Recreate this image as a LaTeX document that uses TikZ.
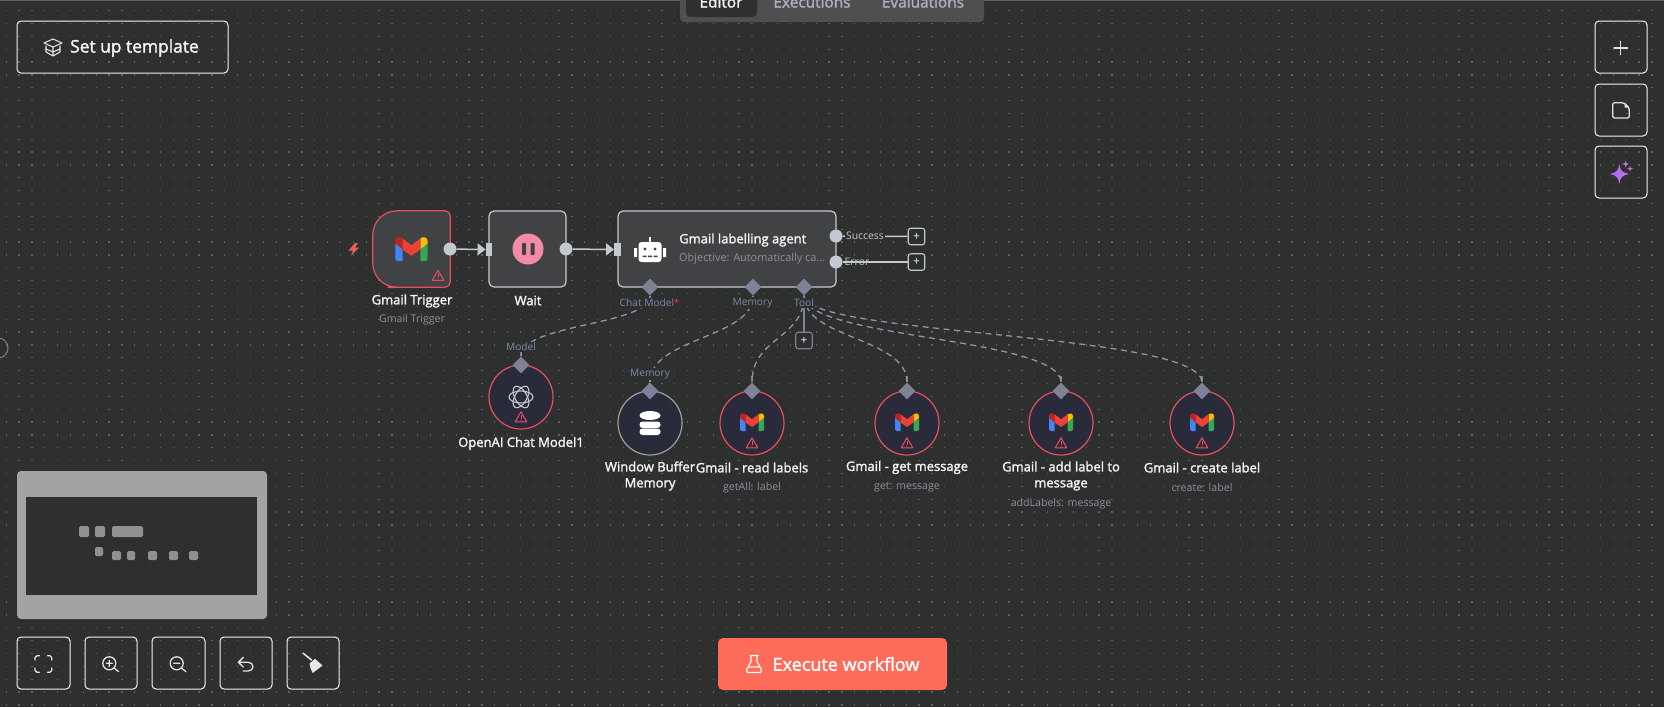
\documentclass[tikz,border=0pt]{standalone}
\usepackage{fontspec}
\setmainfont{Open Sans}
\newfontfamily\semibold[FakeBold=1.8]{Open Sans}
\usetikzlibrary{arrows.meta,shapes.geometric,calc}
\definecolor{bgc}{HTML}{2E2F2F}
\definecolor{griddotc}{HTML}{5F6161}
\definecolor{cardc}{HTML}{414244}
\definecolor{edgec}{HTML}{C4C8D0}
\definecolor{subc}{HTML}{7F8197}
\definecolor{subtext}{HTML}{8C90A0}
\definecolor{subtextb}{HTML}{8087A8}
\definecolor{alert}{HTML}{E8505F}
\definecolor{roundc}{HTML}{2A2B3A}
\definecolor{coral}{HTML}{FF6D5A}
\definecolor{minic}{HTML}{8F9094}
\definecolor{minibg}{HTML}{A3A3A3}
\definecolor{barc}{HTML}{4F4F4F}
\definecolor{tabtext}{HTML}{AAB0C0}
\definecolor{whitec}{HTML}{F4F4F6}
\definecolor{gblue}{HTML}{4285F4}
\definecolor{ggreen}{HTML}{34A853}
\definecolor{gyellow}{HTML}{FBBC04}
\definecolor{gred}{HTML}{EA4335}
\definecolor{gdark}{HTML}{C5221F}
\definecolor{pausec}{HTML}{F48BA6}
\definecolor{boltc}{HTML}{E8604F}
\definecolor{sparka}{HTML}{A06BF8}
\definecolor{sparkb}{HTML}{C775E0}
\tikzset{
  griddots/.style={griddotc,line width=1.3pt,dash pattern=on 1.3pt off 11.557pt},
  card/.style={rectangle,rounded corners=5pt,draw=edgec,fill=cardc,line width=1.2pt,minimum width=77pt,minimum height=76pt,inner sep=0pt},
  roundnode/.style={circle,draw=alert,fill=roundc,line width=1.2pt,minimum size=64pt,inner sep=0pt},
  inbar/.style={rectangle,fill=edgec,minimum width=6.5pt,minimum height=13pt,inner sep=0pt},
  outdot/.style={circle,fill=edgec,minimum size=13pt,inner sep=0pt},
  subport/.style={diamond,aspect=1,fill=subc,minimum width=17pt,minimum height=17pt,inner sep=0pt},
  mainedge/.style={edgec,line width=1.5pt,-{Triangle[length=8pt,width=12pt]}},
  plainedge/.style={edgec,line width=1.5pt},
  subedge/.style={subc!85!white,line width=1.3pt,dash pattern=on 6pt off 4.5pt},
  stem/.style={subc,line width=1.4pt},
  addbox/.style={rectangle,rounded corners=2.5pt,draw=edgec,line width=1.1pt,minimum size=16.5pt,inner sep=0pt,text=whitec,font=\fontsize{12}{12}\selectfont,fill=bgc},
  title/.style={text=whitec,align=center,inner sep=0pt,font=\semibold\fontsize{13}{16}\selectfont},
  subtitle/.style={text=subtext,inner sep=0pt,font=\fontsize{10.6}{12}\selectfont},
  portlabel/.style={text=subtextb,fill=bgc,inner sep=1pt,font=\fontsize{10.2}{12}\selectfont},
  uibtn/.style={rectangle,rounded corners=4pt,draw=whitec,line width=1pt,inner sep=0pt},
  uiicon/.style={whitec!85!gray,line width=1.3pt,line cap=round,line join=round},
  pics/gmail/.style={code={
    \fill[gdark] (-12,-4) -- (-12,-5.5) .. controls (-12,-9) and (-8.5,-9.5) .. (-6.5,-7.8) -- (-6.5,0.5) -- cycle;
    \fill[gyellow] (12,-4) -- (12,-5.5) .. controls (12,-9) and (8.5,-9.5) .. (6.5,-7.8) -- (6.5,0.5) -- cycle;
    \fill[gblue] (-12,-4) -- (-6.5,0.5) -- (-6.5,9) -- (-10.5,9) -- (-12,7.5) -- cycle;
    \fill[ggreen] (12,-4) -- (6.5,0.5) -- (6.5,9) -- (10.5,9) -- (12,7.5) -- cycle;
    \fill[gred] (-6.5,-7.8) -- (0,-2.8) -- (6.5,-7.8) -- (6.5,0.5) -- (0,5) -- (-6.5,0.5) -- cycle;
  }},
  pics/warnmark/.style={code={
    \draw[alert,line width=1pt,line join=round] (0,-5.2) -- (5.8,4.8) -- (-5.8,4.8) -- cycle;
    \draw[alert,line width=1pt] (0,-1.8) -- (0,1.6);
    \fill[alert] (0,3.2) circle (0.6);
  }}
}
\begin{document}
\begin{tikzpicture}[x=1pt,y=-1pt]
\useasboundingbox (0,0) rectangle (1664,707);
\fill[bgc] (0,0) rectangle (1664,707);
% canvas dots
\foreach \r in {0,...,54}{
  \pgfmathsetmacro{\yy}{10.7+12.857*\r}
  \draw[griddots] (5.5,\yy) -- (1664,\yy);
}
\fill[barc!90!white] (0,0) rectangle (1664,1);
\draw[griddotc!80!white,line width=1pt] (-2,348) circle (10);

% top tab bar
\fill[barc] (680,0) -- (680,18) arc[start angle=180,end angle=90,radius=4] -- (980,22) arc[start angle=90,end angle=0,radius=4] -- (984,0) -- cycle;
\fill[bgc] (686,0) -- (686,13) arc[start angle=180,end angle=90,radius=4] -- (753,17) arc[start angle=90,end angle=0,radius=4] -- (757,0) -- cycle;
\node[anchor=base,text=whitec,inner sep=0pt,font=\semibold\fontsize{15.4}{18}\selectfont] (tabeditor) at (721,7.5) {Editor};
\node[anchor=base,text=tabtext,inner sep=0pt,font=\semibold\fontsize{15.4}{18}\selectfont] (tabexec) at (812,7.5) {Executions};
\node[anchor=base,text=tabtext,inner sep=0pt,font=\semibold\fontsize{15.4}{18}\selectfont] (tabeval) at (923,7.5) {Evaluations};

% set up template
\node[uibtn,minimum width=211pt,minimum height=52pt] (setup) at (122.5,47) {};
\draw[uiicon,line width=1.1pt] (44,43) -- (53,39) -- (62,43) -- (53,47) -- cycle (46,46) -- (46,52) -- (53,56) -- (60,52) -- (60,46) (53,47) -- (53,56) (46,49) -- (53,52) -- (60,49);
\node[anchor=west,text=whitec,inner sep=0pt,font=\semibold\fontsize{17.4}{20}\selectfont] (setuptext) at (70,48) {Set up template};

% right buttons
\node[uibtn,minimum width=52pt,minimum height=52pt] (btnadd) at (1621,47) {};
\node[uibtn,minimum width=52pt,minimum height=52pt] (btnnote) at (1621,110) {};
\node[uibtn,minimum width=52pt,minimum height=52pt] (btnai) at (1621,172) {};
\draw[uiicon] (1614,48) -- (1627.5,48) (1620.7,41.3) -- (1620.7,54.7);
\draw[uiicon,rounded corners=2pt] (1624,102.7) -- (1612.7,102.7) -- (1612.7,118) -- (1629.3,118) -- (1629.3,108) -- cycle;
\fill[whitec!85!gray] (1624.5,102.7) -- (1629.3,107.5) -- (1624.5,107.5) -- cycle;
\shade[left color=sparka,right color=sparkb] (1609.3,174) .. controls (1616,173) and (1618.5,170.5) .. (1619.3,164) .. controls (1620,170.5) and (1622.5,173) .. (1629.3,174) .. controls (1622.5,175) and (1620,177.5) .. (1619.3,184) .. controls (1618.5,177.5) and (1616,175) .. (1609.3,174) -- cycle;
\fill[sparkb] (1622,164) .. controls (1625,163.6) and (1625.3,163.3) .. (1625.7,160.5) .. controls (1626,163.3) and (1626.4,163.6) .. (1629.2,164) .. controls (1626.4,164.4) and (1626,164.7) .. (1625.7,167.5) .. controls (1625.3,164.7) and (1625,164.4) .. (1622,164) -- cycle;
\fill[sparkb] (1627,168.7) .. controls (1629.4,168.4) and (1629.7,168.1) .. (1630,165.7) .. controls (1630.3,168.1) and (1630.6,168.4) .. (1633,168.7) .. controls (1630.6,169) and (1630.3,169.3) .. (1630,171.7) .. controls (1629.7,169.3) and (1629.4,169) .. (1627,168.7) -- cycle;

% minimap
\fill[minibg,rounded corners=4pt] (17,471) rectangle (267,619);
\fill[bgc] (26,497) rectangle (257,595);
\foreach \xa/\ya/\xb/\yb in {79/526/89/537,95/526/105/537,112/526/143/537,95/547/103/556,112/551/121/560,127/551/135/560,148/551/157/560,169/551/178/560,189/551/198/560}{
  \fill[minic,rounded corners=1.5pt] (\xa,\ya) rectangle (\xb,\yb);
}

% bottom buttons
\node[uibtn,minimum width=53pt,minimum height=52pt] (btnfit) at (43.5,663) {};
\node[uibtn,minimum width=52pt,minimum height=52pt] (btnzoomin) at (111,663) {};
\node[uibtn,minimum width=53pt,minimum height=52pt] (btnzoomout) at (178.5,663) {};
\node[uibtn,minimum width=52pt,minimum height=52pt] (btnundo) at (246,663) {};
\node[uibtn,minimum width=52pt,minimum height=52pt] (btnclean) at (313,663) {};
\draw[uiicon] (35,660) -- (35,657.5) -- (37,655.7) -- (39.5,655.7) (47.5,655.7) -- (50,655.7) -- (51.7,657.5) -- (51.7,660) (51.7,668) -- (51.7,670.5) -- (50,672.3) -- (47.5,672.3) (39.5,672.3) -- (37,672.3) -- (35,670.5) -- (35,668);
\draw[uiicon] (109.3,663.3) circle (6.5) (114,668) -- (118.7,671.7) (106.3,663.3) -- (112.3,663.3) (109.3,660.3) -- (109.3,666.3);
\draw[uiicon] (176.7,663.3) circle (6.5) (181.4,668) -- (186,671.7) (173.7,663.3) -- (179.7,663.3);
\draw[uiicon] (243.3,657.3) -- (238.3,662.3) -- (243.3,667) (238.3,662.3) -- (248.3,662.3) .. controls (254.5,662.3) and (254.5,671) .. (248.3,671) -- (243.3,671);
\draw[uiicon,line width=1.6pt] (303.3,653.3) -- (311.5,660);
\fill[whitec!90!gray] (309.5,663.5) -- (315,658.8) -- (322.5,665.5) -- (312.7,673) -- (310.5,668.3) -- cycle;

% execute button
\node[rectangle,rounded corners=5pt,fill=coral,minimum width=229pt,minimum height=52pt,inner sep=0pt] (execute) at (832.5,664) {};
\draw[white,line width=1.2pt,line join=round] (749.5,655.5) -- (758.5,655.5) (751,655.5) -- (751,661.5) -- (746.5,670) -- (747.5,672.5) -- (760.5,672.5) -- (761.5,670) -- (757,661.5) -- (757,655.5) (748.5,667) -- (759.5,667);
\node[text=white,inner sep=0pt,font=\semibold\fontsize{18}{20}\selectfont] (executetext) at (846,664) {Execute workflow};

% workflow cards
\fill[boltc] (355,243) -- (348.5,250.5) -- (353,250.5) -- (351,255.5) -- (359,247.5) -- (355,247.5) -- (358,243) -- cycle;
\node[minimum width=77pt,minimum height=76pt,inner sep=0pt] (trigger) at (411.5,249) {};
\draw[alert,fill=cardc,line width=1.2pt] (trigger.north) [rounded corners=24pt] -- (trigger.north west) -- (trigger.south west) -- (trigger.south) [rounded corners=5pt] -- (trigger.south east) -- (trigger.north east) -- cycle;
\pic[scale=1.35] at (411.5,249) {gmail};
\pic at (438,275.5) {warnmark};
\node[title] (triggertitle) at (412,301) {Gmail Trigger};
\node[subtitle] (triggersub) at (412,320) {Gmail Trigger};
\node[outdot] (triggerout) at (450,249) {};

\node[card] (wait) at (527.5,249) {};
\node[inbar] (waitin) at (489,249.5) {};
\node[outdot] (waitout) at (566,249) {};
\node[circle,fill=pausec,minimum size=31pt,inner sep=0pt] (pause) at (528,249) {};
\fill[cardc,rounded corners=0.8pt] (522,243) rectangle (526,255) (530.5,243) rectangle (534.5,255);
\node[title] (waittitle) at (528,300.5) {Wait};

\node[card,minimum width=218pt] (agent) at (727,249) {};
\node[inbar] (agentin) at (617.5,249.5) {};
\node[outdot] (agentok) at (836,236) {};
\node[outdot] (agenterr) at (836,262) {};
\draw[mainedge] (triggerout) -- (waitin.west);
\draw[mainedge] (waitout) -- (agentin.west);

% robot icon
\fill[white] (634,248) rectangle (637,257) (663,248) rectangle (666,257) (649.2,237) rectangle (650.8,243);
\fill[white,rounded corners=3pt] (638.5,242) rectangle (661.5,262);
\fill[cardc] (645,249) circle (1.7) (655,249) circle (1.7) (642.5,255.5) rectangle (646.5,257) (648,255.5) rectangle (652,257) (653.5,255.5) rectangle (657.5,257);
\node[title,anchor=west] (agenttitle) at (679,240) {Gmail labelling agent};
\node[subtitle,anchor=west,font=\fontsize{10.9}{12}\selectfont] (agentsub) at (679,259) {Objective: Automatically ca...};

% agent ports
\node[subport] (portchat) at (650,287) {};
\node[subport] (portmem) at (753,287) {};
\node[subport] (porttool) at (804,287) {};
\draw[stem] (portchat.south) -- ++(0,3);
\draw[stem] (portmem.south) -- ++(0,3);
\draw[stem] (porttool.south) -- ++(0,3);

% sub nodes
\node[roundnode] (openai) at (521,397) {};
\node[roundnode,draw=gray!75!white] (memory) at (650,423) {};
\node[roundnode] (readlabels) at (752,423) {};
\node[roundnode] (getmsg) at (907,423) {};
\node[roundnode] (addlabel) at (1061,423) {};
\node[roundnode] (createlabel) at (1202,423) {};
\node[subport] (inopenai) at (521,365) {};
\node[subport] (inmemory) at (650,391) {};
\node[subport] (inread) at (752,391) {};
\node[subport] (inget) at (907,391) {};
\node[subport] (inadd) at (1061,391) {};
\node[subport] (increate) at (1202,391) {};
\foreach \p in {inopenai,inmemory,inread,inget,inadd,increate}{
  \draw[stem,line width=1.1pt] (\p.north) -- ++(0,-6);
}

% sub connectors
\draw[subedge] (portchat.south) .. controls +(0,30) and +(0,-33) .. (inopenai.north);
\draw[subedge] (portmem.south) .. controls +(0,43) and +(0,-45) .. (inmemory.north);
\draw[subedge] (porttool.south) .. controls +(0,43) and +(0,-45) .. (inread.north);
\draw[subedge] (porttool.south) .. controls +(0,43) and +(0,-45) .. (inget.north);
\draw[subedge] (porttool.south) .. controls +(0,43) and +(0,-45) .. (inadd.north);
\draw[subedge] (porttool.south) .. controls +(0,40) and +(0,-50) .. (increate.north);

% outgoing from agent
\node[addbox] (addok) at (916.5,236.5) {+};
\node[addbox] (adderr) at (916.5,262) {+};
\node[addbox,draw=subc] (addtool) at (804,340.5) {+};
\draw[plainedge] (agentok) -- (addok);
\draw[plainedge] (agenterr) -- (adderr);
\draw[stem] (porttool.south) -- (addtool);

% port labels
\node[portlabel] (lblchat) at (647,303) {Chat Model};
\node[text=red!80!white,inner sep=0pt,font=\fontsize{10}{10}\selectfont] (lblstar) at (676.5,302.5) {*};
\node[portlabel] (lblmem) at (752.5,303) {Memory};
\node[portlabel] (lbltool) at (804,303) {Tool};
\node[portlabel] (lblmodel) at (521,347) {Model};
\node[portlabel] (lblmemin) at (650,374) {Memory};
\node[text=edgec,fill=bgc,inner sep=1pt,font=\fontsize{10.4}{12}\selectfont] (lblok) at (865,236) {Success};
\node[text=edgec,inner sep=0pt,font=\fontsize{10.4}{12}\selectfont] (lblerr) at (857,262) {Error};

% OpenAI rosette
\foreach \a in {0,60,120}{
  \draw[edgec,line width=1.1pt,rotate around={\a:(521,397)}] (521,397) ellipse (12 and 6);
}
\pic at (521,417) {warnmark};

% database
\foreach \yy in {428.5,421.5}{
  \fill[white,rounded corners=3pt] (639.5,\yy) rectangle (660.5,\yy+6.5);
}
\fill[white] (650,415.5) ellipse (10.5 and 4.5);

% gmail icons
\foreach \cx in {752,907,1061,1202}{
  \pic at (\cx,422) {gmail};
  \pic at (\cx,443) {warnmark};
}

% node titles
\node[title] (openaititle) at (521,443.5) {OpenAI Chat Model1};
\node[title] (memorytitle) at (650,476) {Window Buffer\\Memory};
\node[title] (readtitle) at (752,467.5) {Gmail - read labels};
\node[subtitle] (readsub) at (752,487.5) {getAll: label};
\node[title] (gettitle) at (907,467.5) {Gmail - get message};
\node[subtitle] (getsub) at (907,487.5) {get: message};
\node[title] (addtitle) at (1061,476) {Gmail - add label to\\message};
\node[subtitle] (addsub) at (1061,503.5) {addLabels: message};
\node[title] (createtitle) at (1202,467.5) {Gmail - create label};
\node[subtitle] (createsub) at (1202,487.5) {create: label};
\end{tikzpicture}
\end{document}
